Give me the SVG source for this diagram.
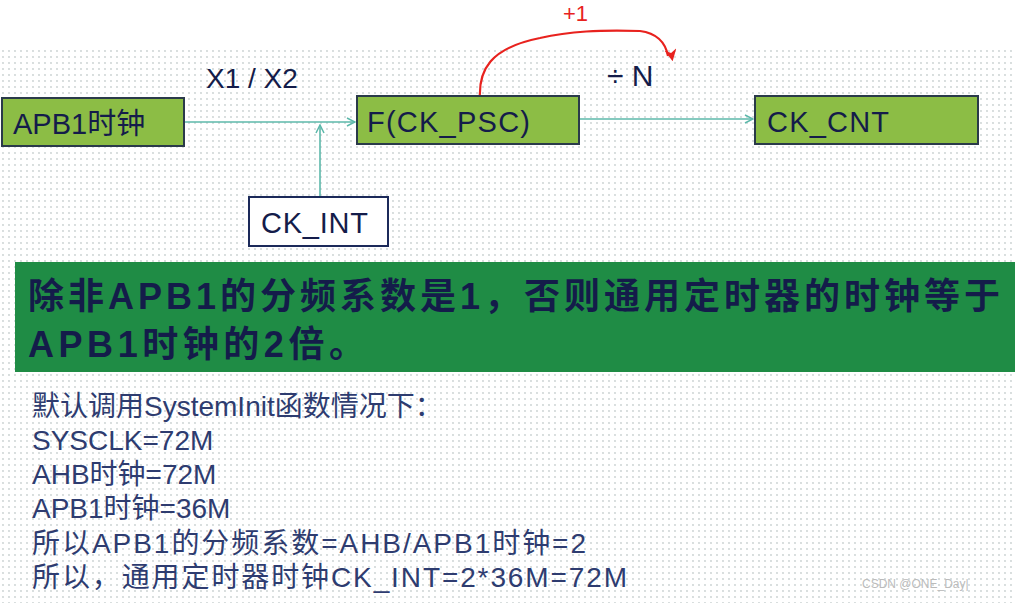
<svg xmlns="http://www.w3.org/2000/svg" width="1015" height="603" viewBox="0 0 1015 603">
<defs>
<pattern id="dots" width="6" height="6" patternUnits="userSpaceOnUse"><rect width="6" height="6" fill="#fff"/><circle cx="3" cy="3" r="0.9" fill="#c8d0d0"/></pattern>
<marker id="ta" viewBox="0 0 10 10" refX="9" refY="5" markerWidth="10" markerHeight="10" markerUnits="userSpaceOnUse" orient="auto"><path d="M1,1 L9,5 L1,9" fill="none" stroke="#5cb8aa" stroke-width="1.5"/></marker>
<marker id="ra" viewBox="0 0 10 10" refX="5" refY="8" markerWidth="12" markerHeight="12" markerUnits="userSpaceOnUse" orient="auto"><path d="M0,0 L10,5 L0,10 L3,5Z" fill="#e8221e"/></marker>
</defs>
<style>
.t{font-family:"Liberation Sans","Noto Sans CJK SC",sans-serif;fill:#141c4a}
.g{fill:#8cbd45;stroke:#2a3a4a;stroke-width:2}
.c{stroke:#5cb8aa;stroke-width:1.6;fill:none}
.b{font-family:"Liberation Sans","Noto Sans CJK SC",sans-serif;fill:#2e3c70;font-size:28px}
</style>
<rect width="1015" height="603" fill="#fff"/>
<rect y="47" width="1015" height="556" fill="url(#dots)"/>
<g id="connectors">
<path class="c" d="M185,122 H355" marker-end="url(#ta)"/>
<path class="c" d="M320,196 V125" marker-end="url(#ta)"/>
<path class="c" d="M580,119 H753" marker-end="url(#ta)"/>
<path d="M480,100 C478,70 490,48 540,38 C570,31 600,30 640,31 C655,33 665,40 668,56" fill="none" stroke="#e8221e" stroke-width="2.2" marker-end="url(#ra)"/>
</g>
<g id="apb1"><rect class="g" x="2" y="98" width="182" height="48"/><text class="t" x="13" y="134" font-size="29">APB1时钟</text></g>
<g id="ckpsc"><rect class="g" x="357" y="96" width="222" height="48"/><text class="t" x="367" y="132" font-size="29" textLength="163">F(CK_PSC)</text></g>
<g id="ckcnt"><rect class="g" x="755" y="96" width="223" height="48"/><text class="t" x="767" y="132" font-size="29" textLength="122">CK_CNT</text></g>
<g id="ckint"><rect x="249" y="197" width="139" height="49" fill="#fff" stroke="#1c2a5a" stroke-width="2"/><text class="t" x="261" y="233" font-size="29" textLength="107">CK_INT</text></g>
<text class="t" x="206" y="88" font-size="28">X1 / X2</text>
<text class="t" x="607" y="86" font-size="30">÷ N</text>
<text x="563" y="21" font-size="22" fill="#e8221e" font-family="Liberation Sans,sans-serif">+1</text>
<g id="note">
<rect x="15" y="262" width="1000" height="110" fill="#1f8c45"/>
<text class="t" x="28" y="309" font-size="36" font-weight="bold" textLength="972">除非APB1的分频系数是1，否则通用定时器的时钟等于</text>
<text class="t" x="28" y="357" font-size="36" font-weight="bold" textLength="337">APB1时钟的2倍。</text>
</g>
<g id="body">
<text class="b" x="32" y="416">默认调用SystemInit函数情况下：</text>
<text class="b" x="32" y="450">SYSCLK=72M</text>
<text class="b" x="32" y="484">AHB时钟=72M</text>
<text class="b" x="32" y="518">APB1时钟=36M</text>
<text class="b" x="32" y="553" textLength="554">所以APB1的分频系数=AHB/APB1时钟=2</text>
<text class="b" x="32" y="587" textLength="595">所以，通用定时器时钟CK_INT=2*36M=72M</text>
</g>
<text x="862" y="588" font-size="12" fill="#bbb" font-family="Liberation Sans,sans-serif">CSDN @ONE_Day|</text>
</svg>
